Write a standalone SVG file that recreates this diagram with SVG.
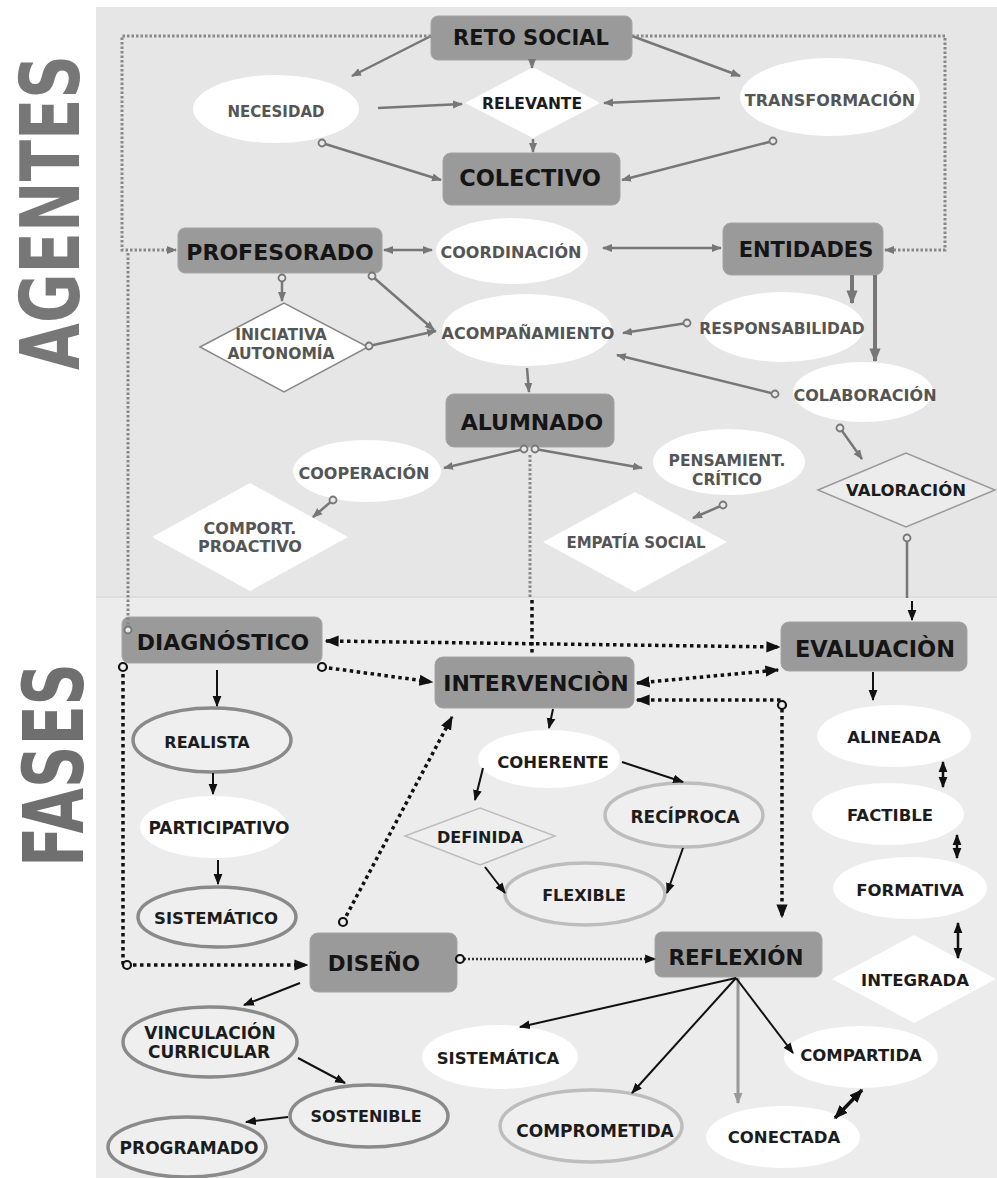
<svg xmlns="http://www.w3.org/2000/svg" width="997" height="1178" viewBox="0 0 997 1178">
<style>
text{font-family:"DejaVu Sans","Liberation Sans",sans-serif;font-weight:bold;text-anchor:middle;dominant-baseline:central}
.big{font-size:22px;fill:#151515}
.tg{font-size:16px;fill:#555}
.tk{font-size:16.5px;fill:#1c1c1c}
.box{fill:#9a9a9a;stroke:#a4a4a4;stroke-width:1}
.ew{fill:#fff}
.eo{fill:#efefef;stroke:#8a8a8a;stroke-width:3.5}
.el{fill:#efefef;stroke:#bdbdbd;stroke-width:3.5}
.cg{fill:none;stroke:#777;stroke-width:2.5}
.cgt{fill:none;stroke:#777;stroke-width:4}
.ck{fill:none;stroke:#111;stroke-width:2}
.ckt{fill:none;stroke:#111;stroke-width:3.5}
.dg{fill:none;stroke:#888;stroke-width:3;stroke-dasharray:2.5 2}
.dk{fill:none;stroke:#111;stroke-width:3.5;stroke-dasharray:3.5 3.5}
.df{fill:none;stroke:#333;stroke-width:2.5;stroke-dasharray:2 2}
.huge{fill:#777;dominant-baseline:auto;text-anchor:start}
</style>
<defs>
<marker id="ag" viewBox="0 0 10 10" refX="9" refY="5" markerWidth="10" markerHeight="10" markerUnits="userSpaceOnUse" orient="auto-start-reverse"><path d="M0,1 L10,5 L0,9 z" fill="#777"/></marker>
<marker id="agb" viewBox="0 0 10 10" refX="9" refY="5" markerWidth="14" markerHeight="14" markerUnits="userSpaceOnUse" orient="auto-start-reverse"><path d="M0,1 L10,5 L0,9 z" fill="#777"/></marker>
<marker id="ak" viewBox="0 0 10 10" refX="9" refY="5" markerWidth="11" markerHeight="11" markerUnits="userSpaceOnUse" orient="auto-start-reverse"><path d="M0,1 L10,5 L0,9 z" fill="#111"/></marker>
<marker id="akb" viewBox="0 0 10 10" refX="9" refY="5" markerWidth="14" markerHeight="14" markerUnits="userSpaceOnUse" orient="auto-start-reverse"><path d="M0,1 L10,5 L0,9 z" fill="#111"/></marker>
<marker id="agl" viewBox="0 0 10 10" refX="9" refY="5" markerWidth="11" markerHeight="11" markerUnits="userSpaceOnUse" orient="auto-start-reverse"><path d="M0,1 L10,5 L0,9 z" fill="#999"/></marker>
<marker id="og" viewBox="0 0 10 10" refX="5" refY="5" markerWidth="10" markerHeight="10" markerUnits="userSpaceOnUse"><circle cx="5" cy="5" r="3.5" fill="#e8e8e8" stroke="#777" stroke-width="1.8"/></marker>
<marker id="ok" viewBox="0 0 12 12" refX="6" refY="6" markerWidth="12" markerHeight="12" markerUnits="userSpaceOnUse"><circle cx="6" cy="6" r="4" fill="#eee" stroke="#111" stroke-width="2.2"/></marker>
</defs>

<rect x="0" y="0" width="997" height="1178" fill="#fff"/>
<rect x="96" y="7" width="901" height="590" fill="#e6e6e6"/>
<rect x="96" y="597" width="901" height="581" fill="#ececec"/>
<line x1="96" y1="597" x2="997" y2="597" stroke="#dadada" stroke-width="1.5"/>

<text class="huge" style="font-size:60.5px" transform="translate(79,370) rotate(-90) scale(1,1.35)" textLength="315" lengthAdjust="spacingAndGlyphs">AGENTES</text>
<text class="huge" style="font-size:58px;fill:#6f6f6f" transform="translate(83,867) rotate(-90) scale(1,1.44)" textLength="204" lengthAdjust="spacingAndGlyphs">FASES</text>

<g id="reto-social"><rect class="box" x="431" y="16" width="201" height="44" rx="7"/><text class="big" x="531" y="38" style="font-size:21px">RETO SOCIAL</text></g>
<g id="necesidad"><ellipse class="ew" cx="276" cy="109" rx="83" ry="34"/><text class="tg" x="276" y="112" style="font-size:15px">NECESIDAD</text></g>
<g id="relevante"><polygon fill="#fff" points="465,103 533,67 600,103 533,138"/><text class="tk" x="532" y="104" style="font-size:15.5px">RELEVANTE</text></g>
<g id="transformacion"><ellipse class="ew" cx="830" cy="97" rx="90" ry="39"/><text class="tg" x="830" y="100">TRANSFORMACIÓN</text></g>
<g id="colectivo"><rect class="box" x="443" y="153" width="177" height="52" rx="8"/><text class="big" x="530" y="178" style="font-size:22.5px">COLECTIVO</text></g>
<g id="profesorado"><rect class="box" x="178" y="228" width="204" height="45" rx="7"/><text class="big" x="280" y="252">PROFESORADO</text></g>
<g id="coordinacion"><ellipse class="ew" cx="512" cy="251" rx="76" ry="33"/><text class="tg" x="511" y="252">COORDINACIÓN</text></g>
<g id="entidades"><rect class="box" x="723" y="223" width="160" height="52" rx="8"/><text class="big" x="806" y="250" style="font-size:21px">ENTIDADES</text></g>
<g id="iniciativa"><polygon fill="#fff" stroke="#888" stroke-width="1.5" points="200,347 284,303 368,347 284,392"/><text class="tg" x="281" y="335" style="font-size:15.5px">INICIATIVA</text><text class="tg" x="281" y="354" style="font-size:15.5px">AUTONOMÍA</text></g>
<g id="acompanamiento"><ellipse class="ew" cx="527" cy="330" rx="85" ry="36"/><text class="tg" x="528" y="333">ACOMPAÑAMIENTO</text></g>
<g id="responsabilidad"><ellipse class="ew" cx="783" cy="327" rx="81" ry="35"/><text class="tg" x="782" y="329" style="font-size:15.5px">RESPONSABILIDAD</text></g>
<g id="colaboracion"><ellipse class="ew" cx="863" cy="392" rx="70" ry="30"/><text class="tg" x="865" y="395">COLABORACIÓN</text></g>
<g id="alumnado"><rect class="box" x="446" y="394" width="168" height="53" rx="8"/><text class="big" x="532" y="422">ALUMNADO</text></g>
<g id="cooperacion"><ellipse class="ew" cx="367" cy="471" rx="74" ry="31"/><text class="tg" x="364" y="473">COOPERACIÓN</text></g>
<g id="pensamiento"><ellipse class="ew" cx="729" cy="462" rx="76" ry="33"/><text class="tg" x="727" y="461" style="font-size:15.5px">PENSAMIENT.</text><text class="tg" x="727" y="480" style="font-size:15.5px">CRÍTICO</text></g>
<g id="comport"><polygon fill="#fff" points="152,537 250,483 348,537 250,591"/><text class="tg" x="250" y="528">COMPORT.</text><text class="tg" x="250" y="546">PROACTIVO</text></g>
<g id="empatia"><polygon fill="#fff" points="543,542 635,492 727,542 635,592"/><text class="tg" x="636" y="543" style="font-size:15px">EMPATÍA SOCIAL</text></g>
<g id="valoracion"><polygon fill="#ececec" stroke="#9a9a9a" stroke-width="1.5" points="818,490 906,453 995,490 906,527"/><text class="tk" x="906" y="490">VALORACIÓN</text></g>

<g id="diagnostico"><rect class="box" x="122" y="617" width="200" height="46" rx="7"/><text class="big" x="223" y="642">DIAGNÓSTICO</text></g>
<g id="intervencion"><rect class="box" x="435" y="657" width="199" height="51" rx="8"/><text class="big" x="536" y="683">INTERVENCIÒN</text></g>
<g id="evaluacion"><rect class="box" x="781" y="622" width="186" height="49" rx="8"/><text class="big" x="875" y="649" style="font-size:22.5px">EVALUACIÒN</text></g>
<g id="realista"><ellipse class="eo" cx="212" cy="740" rx="79" ry="32"/><text class="tk" x="207" y="742" style="font-size:16px">REALISTA</text></g>
<g id="participativo"><ellipse class="ew" cx="214" cy="827" rx="74" ry="31"/><text class="tk" x="219" y="828" style="font-size:17px">PARTICIPATIVO</text></g>
<g id="sistematico"><ellipse class="eo" cx="217" cy="917" rx="79" ry="30"/><text class="tk" x="216" y="918">SISTEMÁTICO</text></g>
<g id="diseno"><rect class="box" x="310" y="933" width="147" height="59" rx="8"/><text class="big" x="374" y="963" style="font-size:21.5px">DISEÑO</text></g>
<g id="vinculacion"><ellipse class="eo" cx="210" cy="1042" rx="87" ry="35"/><text class="tk" x="210" y="1033" style="font-size:17px">VINCULACIÓN</text><text class="tk" x="209" y="1052" style="font-size:17px">CURRICULAR</text></g>
<g id="sostenible"><ellipse class="eo" cx="369" cy="1116" rx="79" ry="31"/><text class="tk" x="366" y="1116" style="font-size:16px">SOSTENIBLE</text></g>
<g id="programado"><ellipse class="eo" cx="187" cy="1147" rx="79" ry="30"/><text class="tk" x="189" y="1148" style="font-size:17px">PROGRAMADO</text></g>
<g id="coherente"><ellipse class="ew" cx="549" cy="759" rx="71" ry="29"/><text class="tk" x="553" y="762">COHERENTE</text></g>
<g id="definida"><polygon fill="#eeeeee" stroke="#bdbdbd" stroke-width="1.5" points="405,836 480,808 555,836 480,865"/><text class="tk" x="480" y="837" style="font-size:16px">DEFINIDA</text></g>
<g id="reciproca"><ellipse class="el" cx="684" cy="815" rx="79" ry="32"/><text class="tk" x="685" y="817" style="font-size:17px">RECÍPROCA</text></g>
<g id="flexible"><ellipse class="el" cx="585" cy="894" rx="80" ry="31"/><text class="tk" x="584" y="895" style="font-size:16px">FLEXIBLE</text></g>
<g id="reflexion"><rect class="box" x="655" y="932" width="167" height="45" rx="7"/><text class="big" x="736" y="957" style="font-size:21.5px">REFLEXIÓN</text></g>
<g id="alineada"><ellipse class="ew" cx="894" cy="736" rx="77" ry="31"/><text class="tk" x="894" y="737">ALINEADA</text></g>
<g id="factible"><ellipse class="ew" cx="888" cy="814" rx="76" ry="31"/><text class="tk" x="890" y="815">FACTIBLE</text></g>
<g id="formativa"><ellipse class="ew" cx="910" cy="888" rx="77" ry="31"/><text class="tk" x="910" y="890">FORMATIVA</text></g>
<g id="integrada"><polygon fill="#fff" points="832,979 914,935 996,979 914,1023"/><text class="tk" x="915" y="980">INTEGRADA</text></g>
<g id="sistematica"><ellipse class="ew" cx="500" cy="1057" rx="78" ry="32"/><text class="tk" x="498" y="1058">SISTEMÁTICA</text></g>
<g id="comprometida"><ellipse class="el" cx="591" cy="1126" rx="91" ry="36"/><text class="tk" x="595" y="1131" style="font-size:17px">COMPROMETIDA</text></g>
<g id="compartida"><ellipse class="ew" cx="861" cy="1057" rx="77" ry="31"/><text class="tk" x="861" y="1055">COMPARTIDA</text></g>
<g id="conectada"><ellipse class="ew" cx="783" cy="1137" rx="77" ry="31"/><text class="tk" x="784" y="1137">CONECTADA</text></g>

<g id="connectors">
<path class="cg" d="M431,36 L352,76" marker-end="url(#ag)"/>
<path class="cg" d="M632,36 L740,76" marker-end="url(#ag)"/>
<path class="cg" d="M532,59 L532,68" marker-end="url(#ag)"/>
<path class="cg" d="M378,108 L462,104" marker-end="url(#ag)"/>
<path class="cg" d="M720,98 L604,103" marker-end="url(#ag)"/>
<path class="cg" d="M533,139 L533,152" marker-end="url(#ag)"/>
<path class="cg" d="M322,143 L441,180" marker-start="url(#og)" marker-end="url(#ag)"/>
<path class="cg" d="M773,141 L622,180" marker-start="url(#og)" marker-end="url(#ag)"/>
<path class="cg" d="M384,250 L432,250" marker-start="url(#ag)" marker-end="url(#ag)"/>
<path class="cg" d="M603,248 L721,248" marker-start="url(#ag)" marker-end="url(#ag)"/>
<path class="cg" d="M282,278 L282,301" marker-start="url(#og)" marker-end="url(#ag)"/>
<path class="cg" d="M372,276 L434,330" marker-start="url(#og)" marker-end="url(#ag)"/>
<path class="cg" d="M369,346 L436,331" marker-start="url(#og)" marker-end="url(#ag)"/>
<path class="cg" d="M687,323 L623,333" marker-start="url(#og)" marker-end="url(#ag)"/>
<path class="cg" d="M775,394 L617,355" marker-start="url(#og)" marker-end="url(#ag)"/>
<path class="cgt" d="M852,275 V303" marker-end="url(#agb)"/>
<path class="cgt" d="M875,275 V361" marker-end="url(#agb)"/>
<path class="cg" d="M527,368 L529,392" marker-end="url(#ag)"/>
<path class="cg" d="M524,449 L444,468" marker-start="url(#og)" marker-end="url(#ag)"/>
<path class="cg" d="M535,449 L642,468" marker-start="url(#og)" marker-end="url(#ag)"/>
<path class="cg" d="M333,500 L313,517" marker-start="url(#og)" marker-end="url(#ag)"/>
<path class="cg" d="M723,505 L693,518" marker-start="url(#og)" marker-end="url(#ag)"/>
<path class="cg" d="M840,428 L862,459" marker-start="url(#og)" marker-end="url(#ag)"/>
<path class="cg" d="M907,538 V598" marker-start="url(#og)"/>
<path class="dg" d="M431,36 H122 V250 H176" marker-end="url(#ag)"/>
<path class="dg" d="M632,36 H945 V250 H885" marker-end="url(#ag)"/>
<path class="dg" d="M128,253 V630" marker-end="url(#og)"/>
<path class="dg" d="M530,455 V597"/>

<path class="ck" d="M912,601 V620" marker-end="url(#ak)"/>
<path class="ck" d="M873,672 V700" marker-end="url(#ak)"/>
<path class="ck" d="M217,670 V706" marker-end="url(#ak)"/>
<path class="ck" d="M213,773 V794" marker-end="url(#ak)"/>
<path class="ck" d="M218,860 V884" marker-end="url(#ak)"/>
<path class="ck" d="M300,983 L244,1005" marker-end="url(#ak)"/>
<path class="ck" d="M298,1058 L345,1083" marker-end="url(#ak)"/>
<path class="ck" d="M288,1117 L246,1122" marker-end="url(#ak)"/>
<path class="ck" d="M553,709 L549,728" marker-end="url(#ak)"/>
<path class="ck" d="M483,768 L475,800" marker-end="url(#ak)"/>
<path class="ck" d="M622,762 L683,782" marker-end="url(#ak)"/>
<path class="ck" d="M683,848 L667,893" marker-end="url(#ak)"/>
<path class="ck" d="M485,867 L505,893" marker-end="url(#ak)"/>
<path class="ck" d="M736,978 L520,1027" marker-end="url(#ak)"/>
<path class="ck" d="M736,978 L632,1093" marker-end="url(#ak)"/>
<path fill="none" stroke="#999" stroke-width="3" d="M738,978 V1103" marker-end="url(#agl)"/>
<path class="ck" d="M736,978 L793,1053" marker-end="url(#ak)"/>
<path class="ckt" d="M835,1118 L862,1090" marker-start="url(#akb)" marker-end="url(#akb)"/>
<path class="ck" style="stroke-width:2.5" d="M943,762 V787" marker-start="url(#ak)" marker-end="url(#ak)"/>
<path class="ck" style="stroke-width:2.5" d="M957,835 V858" marker-start="url(#ak)" marker-end="url(#ak)"/>
<path class="ck" style="stroke-width:2.5" d="M958,923 V958" marker-start="url(#ak)" marker-end="url(#ak)"/>

<path class="dk" d="M532,600 V655"/>
<path class="dk" d="M326,641 L779,647" marker-start="url(#akb)" marker-end="url(#akb)"/>
<path class="dk" d="M322,667 L432,682" marker-start="url(#ok)" marker-end="url(#akb)"/>
<path class="dk" d="M637,683 L778,670" marker-start="url(#akb)" marker-end="url(#akb)"/>
<path class="dk" d="M637,700 H782 V917" marker-start="url(#akb)" marker-end="url(#akb)"/>
<circle cx="782" cy="705" r="4" fill="#eee" stroke="#111" stroke-width="2.2"/>
<path class="dk" d="M343,922 L452,717" marker-start="url(#ok)" marker-end="url(#akb)"/>
<path class="dk" d="M123,667 V965 H307" marker-start="url(#ok)" marker-end="url(#akb)"/>
<circle cx="127" cy="965" r="4" fill="#eee" stroke="#111" stroke-width="2.2"/>
<path class="df" d="M460,959 H655" marker-start="url(#ok)" marker-end="url(#ak)"/>
</g>
</svg>
